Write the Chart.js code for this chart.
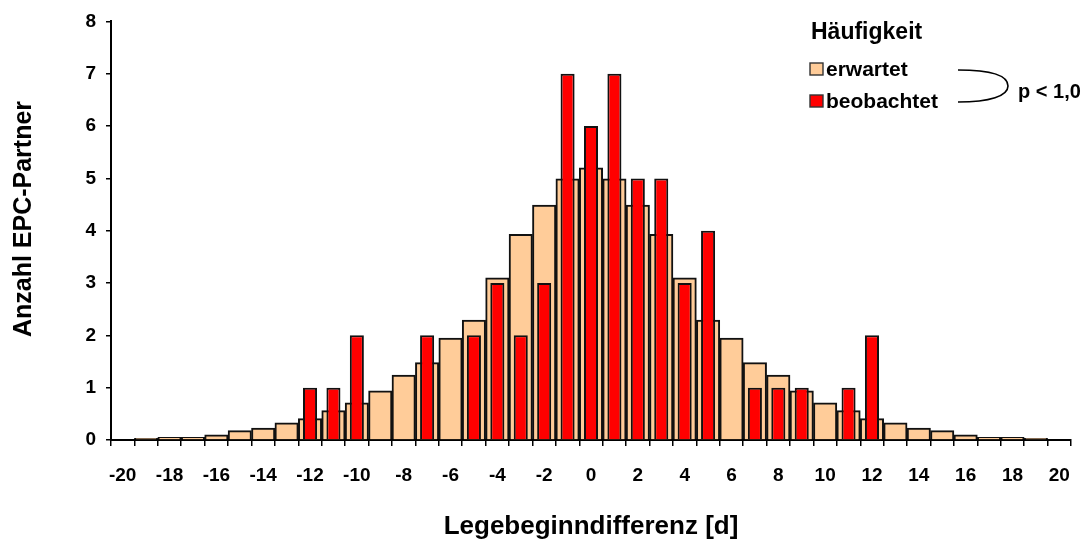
<!DOCTYPE html>
<html>
<head>
<meta charset="utf-8">
<script src="https://cdn.jsdelivr.net/npm/chart.js@4/dist/chart.umd.min.js"></script>
<style>
  html, body { margin: 0; padding: 0; background: #fff; }
  #wrap { width: 1085px; height: 543px; }
</style>
</head>
<body>
<div id="wrap"><canvas id="chart" width="1085" height="543"></canvas></div>
<script>
(function () {
    'use strict';

    // Legebeginndifferenz in Tagen
    var tage = [-20, -19, -18, -17, -16, -15, -14, -13, -12, -11, -10, -9, -8, -7, -6, -5, -4, -3, -2, -1,
        0, 1, 2, 3, 4, 5, 6, 7, 8, 9, 10, 11, 12, 13, 14, 15, 16, 17, 18, 19, 20];

    var erwartet = [0, 0.03, 0.05, 0.05, 0.1, 0.18, 0.23, 0.33, 0.41, 0.56, 0.71, 0.94, 1.24, 1.48, 1.95, 2.29, 3.1, 3.93, 4.49, 4.99,
        5.2, 4.99, 4.49, 3.93, 3.1, 2.29, 1.95, 1.48, 1.24, 0.94, 0.71, 0.56, 0.41, 0.33, 0.23, 0.18, 0.1, 0.05, 0.05, 0.03, 0];

    var beobachtet = [0, 0, 0, 0, 0, 0, 0, 0, 1, 1, 2, 0, 0, 2, 0, 2, 3, 2, 3, 7,
        6, 7, 5, 5, 3, 4, 0, 1, 1, 1, 0, 1, 2, 0, 0, 0, 0, 0, 0, 0, 0];

    var yTicks = [0, 1, 2, 3, 4, 5, 6, 7, 8];

    var FONT = "'Liberation Sans', Arial, Helvetica, sans-serif";
    Chart.defaults.font.family = FONT;
    Chart.defaults.color = '#000';

    var PEACH = '#FFCC99';
    var RED = '#FF0000';

    // titles, legend and the bracket are drawn by hand
    var extras = {
        id: 'extras',
        afterDraw: function (chart) {
            var ctx = chart.ctx;
            var area = chart.chartArea;
            ctx.save();
            ctx.fillStyle = '#000';
            ctx.strokeStyle = '#000';

            // axis titles
            ctx.font = 'bold 26px ' + FONT;
            ctx.textAlign = 'center';
            ctx.textBaseline = 'middle';
            ctx.fillText('Legebeginndifferenz [d]', (area.left + area.right) / 2, 527);

            ctx.save();
            ctx.translate(24, 219);
            ctx.rotate(-Math.PI / 2);
            ctx.font = 'bold 25px ' + FONT;
            ctx.fillText('Anzahl EPC-Partner', 0, 0);
            ctx.restore();

            // legend
            ctx.textAlign = 'left';
            ctx.font = 'bold 23px ' + FONT;
            ctx.fillText('Häufigkeit', 811, 33);

            var items = [
                { label: 'erwartet', color: PEACH, y: 69 },
                { label: 'beobachtet', color: RED, y: 101 }
            ];
            ctx.font = 'bold 21px ' + FONT;
            items.forEach(function (it) {
                ctx.fillStyle = it.color;
                ctx.fillRect(810, it.y - 6, 13, 12);
                ctx.lineWidth = 1.4;
                ctx.strokeStyle = '#333';
                ctx.strokeRect(810, it.y - 6, 13, 12);
                ctx.fillStyle = '#000';
                ctx.fillText(it.label, 826, it.y + 1);
            });

            // bracket
            ctx.strokeStyle = '#000';
            ctx.lineWidth = 1.6;
            ctx.beginPath();
            ctx.moveTo(958, 70);
            ctx.bezierCurveTo(992, 70, 1008, 76, 1008, 86);
            ctx.bezierCurveTo(1008, 96, 990, 102, 958, 102);
            ctx.stroke();

            ctx.font = 'bold 20px ' + FONT;
            ctx.fillText('p < 1,0', 1018, 92);
            ctx.restore();
        }
    };

    new Chart(document.getElementById('chart'), {
        type: 'bar',
        data: {
            labels: tage,
            datasets: [
                {
                    label: 'beobachtet',
                    data: beobachtet,
                    backgroundColor: RED,
                    borderColor: '#111',
                    borderWidth: 2,
                    barPercentage: 0.6,
                    categoryPercentage: 1,
                    grouped: false,
                    order: 0
                },
                {
                    label: 'erwartet',
                    data: erwartet,
                    backgroundColor: PEACH,
                    borderColor: '#111',
                    borderWidth: 2,
                    barPercentage: 1,
                    categoryPercentage: 1,
                    grouped: false,
                    order: 1
                }
            ]
        },
        options: {
            responsive: false,
            animation: false,
            layout: { padding: { left: 0, right: 14, top: 17, bottom: 0 } },
            plugins: {
                legend: { display: false },
                tooltip: { enabled: false }
            },
            scales: {
                x: {
                    grid: { offset: true, drawOnChartArea: false, tickLength: 6, color: '#000', lineWidth: 1.5 },
                    border: { color: '#000', width: 2 },
                    ticks: {
                        autoSkip: false,
                        maxRotation: 0,
                        padding: 18,
                        font: { size: 19, weight: 'bold' },
                        callback: function (v, i) { return i % 2 === 0 ? tage[i] : ''; }
                    },
                    afterFit: function (scale) {
                        scale.height = 103;
                        scale.paddingLeft = 0;
                        scale.paddingRight = 0;
                    }
                },
                y: {
                    min: 0,
                    max: 8,
                    afterBuildTicks: function (scale) {
                        scale.ticks = yTicks.map(function (v) { return { value: v }; });
                    },
                    grid: { drawOnChartArea: false, tickLength: 5, color: '#000', lineWidth: 1.5 },
                    border: { color: '#000', width: 2 },
                    ticks: {
                        padding: 10,
                        font: { size: 19, weight: 'bold' }
                    },
                    afterFit: function (scale) { scale.width = 111; }
                }
            }
        },
        plugins: [extras]
    });
})();
</script>
</body>
</html>
